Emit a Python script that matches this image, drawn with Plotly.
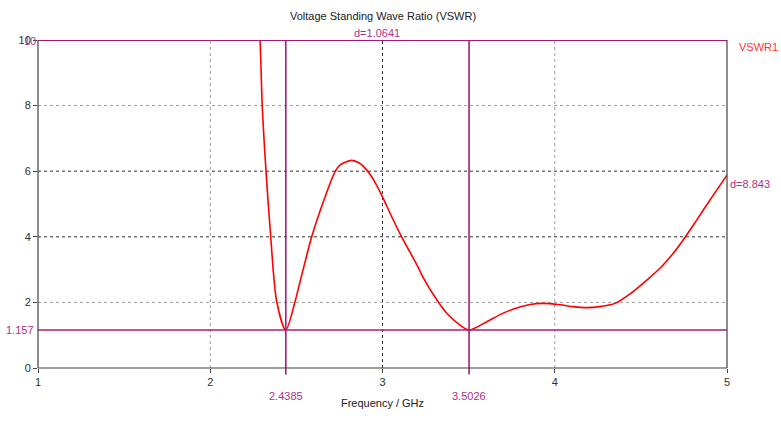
import plotly.graph_objects as go

# VSWR trace (frequency in GHz, ratio)
freq = [2.280, 2.289, 2.302, 2.324, 2.351, 2.386, 2.4385, 2.492, 2.520, 2.589,
        2.660, 2.724, 2.754, 2.821, 2.865, 2.908, 2.950, 2.995, 3.050, 3.111,
        3.199, 3.237, 3.315, 3.373, 3.450, 3.5026, 3.605, 3.680, 3.760, 3.850,
        3.934, 4.030, 4.108, 4.185, 4.270, 4.350, 4.447, 4.534, 4.611, 4.688,
        4.756, 4.824, 4.901, 5.000]
vswr = [10.6, 10.0, 7.97, 5.98, 4.0, 2.02, 1.157, 2.02, 2.6, 4.0,
        5.12, 5.98, 6.19, 6.33, 6.25, 6.04, 5.72, 5.27, 4.65, 4.0,
        3.15, 2.75, 2.08, 1.67, 1.31, 1.157, 1.41, 1.62, 1.80, 1.93,
        1.97, 1.93, 1.87, 1.84, 1.88, 1.97, 2.30, 2.68, 3.04, 3.50,
        3.98, 4.51, 5.12, 5.88]

x_ticks = [1, 2, 3, 4, 5]
y_ticks = [0, 2, 4, 6, 8, 10]
x_grid = [2, 3, 4]
x_grid_colors = ["#9a9a9a", "#303030", "#9a9a9a"]
y_grid = [2, 4, 6, 8]
y_grid_colors = ["#9a9a9a", "#303030", "#303030", "#9a9a9a"]

marker_x = [2.4385, 3.5026]
marker_y = 1.157
delta_x_text = "d=1.0641"
delta_y_text = "d=8.843"

PURPLE = "#a81c78"
LABEL_PURPLE = "#b03285"
FONT = "Liberation Sans"

fig = go.Figure()

fig.add_trace(go.Scatter(
    x=freq, y=vswr, mode="lines", name="VSWR1",
    line=dict(color="#ff0000", width=1.6, shape="spline", smoothing=0.8),
    showlegend=False,
))

shapes = []
for gx, c in zip(x_grid, x_grid_colors):
    shapes.append(dict(type="line", xref="x", yref="y", x0=gx, x1=gx, y0=0, y1=10,
                       line=dict(color=c, width=1, dash="dot"), layer="below"))
for gy, c in zip(y_grid, y_grid_colors):
    shapes.append(dict(type="line", xref="x", yref="y", x0=1, x1=5, y0=gy, y1=gy,
                       line=dict(color=c, width=1, dash="dot"), layer="below"))

# marker lines
for mx in marker_x:
    shapes.append(dict(type="line", xref="x", yref="paper", x0=mx, x1=mx, y0=-0.02, y1=1,
                       line=dict(color=PURPLE, width=1.6)))
shapes.append(dict(type="line", xref="x", yref="y", x0=1, x1=5, y0=marker_y, y1=marker_y,
                   line=dict(color=PURPLE, width=1.6)))
shapes.append(dict(type="line", xref="x", yref="y", x0=1, x1=5, y0=10, y1=10,
                   line=dict(color=PURPLE, width=2.2)))
# frame: left, bottom, right
shapes.append(dict(type="line", xref="paper", yref="paper", x0=0, x1=0, y0=0, y1=1,
                   line=dict(color="#404040", width=1.2)))
shapes.append(dict(type="line", xref="paper", yref="paper", x0=0, x1=1, y0=0, y1=0,
                   line=dict(color="#404040", width=1.2)))
shapes.append(dict(type="line", xref="paper", yref="paper", x0=1, x1=1, y0=0, y1=1,
                   line=dict(color="#404040", width=1.2)))

annotations = [
    dict(text="Voltage Standing Wave Ratio (VSWR)", xref="paper", yref="paper",
         x=0.5, y=1, yanchor="bottom", yshift=16, showarrow=False,
         font=dict(color="#202020", size=11)),
    dict(text=delta_x_text, xref="x", yref="paper", x=sum(marker_x) / 2, y=1, yanchor="bottom",
         showarrow=False, font=dict(color=LABEL_PURPLE, size=11), yshift=-1),
    dict(text="VSWR1", xref="paper", yref="y", x=1, y=9.8, xanchor="left", xshift=10,
         showarrow=False, font=dict(color="#ff3030", size=11)),
    dict(text=delta_y_text, xref="paper", yref="y", x=1, y=5.6, xanchor="left", xshift=1,
         showarrow=False, font=dict(color=LABEL_PURPLE, size=11)),
    dict(text=str(marker_y), xref="paper", yref="y", x=0, y=marker_y, xanchor="right", xshift=-2,
         showarrow=False, font=dict(color=LABEL_PURPLE, size=11)),
    dict(text="10", xref="paper", yref="y", x=0, y=10, xanchor="right", xshift=0, yshift=-1,
         showarrow=False, font=dict(color=LABEL_PURPLE, size=11)),
]
for mx in marker_x:
    annotations.append(dict(text=f"{mx:.4f}", xref="x", yref="paper", x=mx, y=0, yanchor="top",
                            yshift=-20, showarrow=False, font=dict(color=LABEL_PURPLE, size=11)))

fig.update_layout(
    width=781, height=423,
    margin=dict(l=38, r=54, t=40, b=55),
    paper_bgcolor="white", plot_bgcolor="white",
    font=dict(family=FONT, size=11, color="#303030"),
    shapes=shapes, annotations=annotations,
    xaxis=dict(range=[1, 5], tickvals=x_ticks, ticktext=[str(t) for t in x_ticks],
               showgrid=False, zeroline=False, showline=False,
               ticks="outside", ticklen=4, tickcolor="#404040",
               title=dict(text="Frequency / GHz", standoff=12, font=dict(size=11, color="#202020"))),
    yaxis=dict(range=[0, 10], tickvals=y_ticks, ticktext=[str(t) for t in y_ticks],
               showgrid=False, zeroline=False, showline=False,
               ticks="outside", ticklen=4, tickcolor="#404040"),
)

fig.write_html("out.html")
